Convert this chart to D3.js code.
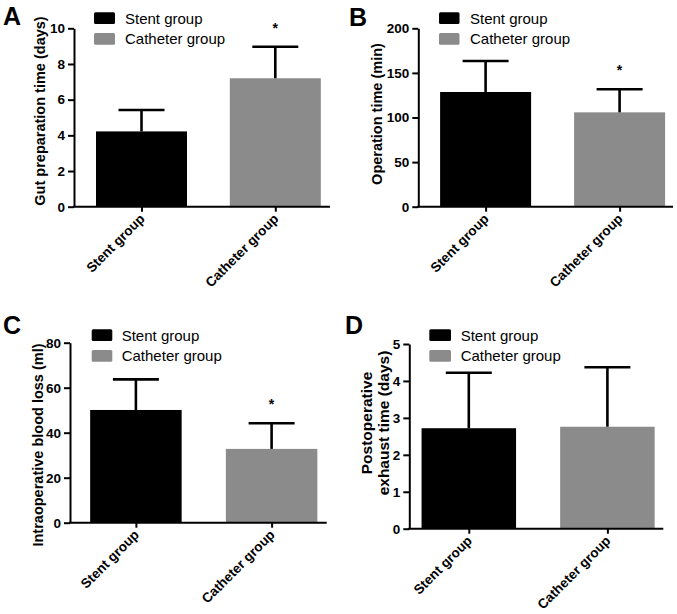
<!DOCTYPE html>
<html>
<head>
<meta charset="utf-8">
<script src="https://cdn.jsdelivr.net/npm/d3@7"></script>
<style>
  html, body { margin: 0; padding: 0; background: #fff; }
  svg { display: block; }
  text { font-family: "Liberation Sans", Arial, sans-serif; }
</style>
</head>
<body>
<svg id="chart" width="677" height="614"></svg>
<script>
// ---- Data ----
const categories = ["Stent group", "Catheter group"];
const seriesColors = ["#000000", "#8b8b8b"];

const panelLetters = ["A", "B", "C", "D"];
const yLabels = [
  ["Gut preparation time (days)"],
  ["Operation time (min)"],
  ["Intraoperative blood loss (ml)"],
  ["Postoperative", "exhaust time (days)"]
];

const gutMeans = [4.22, 7.2];
const gutSD = [1.2, 1.77];
const opMeans = [128.6, 105.8];
const opSD = [34.7, 25.8];
const bloodMeans = [50.1, 32.8];
const bloodSD = [13.6, 11.4];
const exhaustMeans = [2.72, 2.76];
const exhaustSD = [1.5, 1.61];

const gutTicks = [0, 2, 4, 6, 8, 10];
const opTicks = [0, 50, 100, 150, 200];
const bloodTicks = [0, 20, 40, 60, 80];
const exhaustTicks = [0, 1, 2, 3, 4, 5];

const significant = [
  [false, true],
  [false, true],
  [false, true],
  [false, false]
];

// ---- Layout ----
const panels = [
  { means: gutMeans, sd: gutSD, ticks: gutTicks,
    x0: 74, x1: 330, yTop: 28.3, yBot: 206.7, c1: 141.5, c2: 275.3, bw: 91,
    legX: 94, legW: 21, legY: 12.3, textX: 125,
    letterX: 3, letterY: 25, labSize: 14.5,
    labX: [45], labY: 111 },
  { means: opMeans, sd: opSD, ticks: opTicks,
    x0: 418.3, x1: 673, yTop: 28.3, yBot: 206.7, c1: 485.6, c2: 619.6, bw: 91,
    legX: 439, legW: 20.5, legY: 12.3, textX: 470,
    letterX: 349, letterY: 25.5, labSize: 14.5,
    labX: [382], labY: 114 },
  { means: bloodMeans, sd: bloodSD, ticks: bloodTicks,
    x0: 70, x1: 326.7, yTop: 342.7, yBot: 522.7, c1: 135.9, c2: 271.6, bw: 91.5,
    legX: 91.7, legW: 20.6, legY: 329.3, textX: 121.7,
    letterX: 3, letterY: 333.5, labSize: 14.5,
    labX: [43], labY: 445 },
  { means: exhaustMeans, sd: exhaustSD, ticks: exhaustTicks,
    x0: 409.3, x1: 663.3, yTop: 344, yBot: 528.7, c1: 468.8, c2: 607.4, bw: 94.5,
    legX: 429.3, legW: 21.7, legY: 329.3, textX: 460.7,
    letterX: 345, letterY: 334, labSize: 15.5,
    labX: [371.5, 389], labY: 423 }
];

const svg = d3.select("#chart");
const FONT = '"Liberation Sans", Arial, sans-serif';

panels.forEach((p, i) => {
  const g = svg.append("g");
  const maxV = d3.max(p.ticks);
  const y = d3.scaleLinear().domain([0, maxV]).range([p.yBot, p.yTop]);
  const x = d3.scalePoint().domain(categories).range([p.c1, p.c2]);

  // bars
  g.selectAll("rect.bar").data(categories).enter().append("rect")
    .attr("class", "bar")
    .attr("x", d => x(d) - p.bw / 2)
    .attr("width", p.bw)
    .attr("y", (d, j) => y(p.means[j]))
    .attr("height", (d, j) => p.yBot - y(p.means[j]))
    .attr("fill", (d, j) => seriesColors[j]);

  // error bars (upper only)
  const capHalf = 23;
  categories.forEach((c, j) => {
    const top = y(p.means[j] + p.sd[j]);
    g.append("line")
      .attr("x1", x(c)).attr("x2", x(c))
      .attr("y1", y(p.means[j])).attr("y2", top)
      .attr("stroke", "#000").attr("stroke-width", 2.6);
    g.append("line")
      .attr("x1", x(c) - capHalf).attr("x2", x(c) + capHalf)
      .attr("y1", top).attr("y2", top)
      .attr("stroke", "#000").attr("stroke-width", 2.6);
    if (significant[i][j]) {
      g.append("text")
        .attr("x", x(c)).attr("y", top - 14)
        .attr("text-anchor", "middle")
        .attr("font-size", 14).attr("font-weight", "bold")
        .text("*");
    }
  });

  // y axis
  const yAxis = d3.axisLeft(y).tickValues(p.ticks).tickFormat(d3.format("d"))
    .tickSize(6).tickSizeOuter(0).tickPadding(3);
  const ya = g.append("g").attr("transform", `translate(${p.x0},0)`).call(yAxis);
  ya.select(".domain").attr("stroke-width", 2);
  ya.selectAll(".tick line").attr("stroke-width", 2);
  ya.selectAll(".tick text")
    .attr("font-family", FONT).attr("font-size", 13.5).attr("font-weight", "bold").attr("fill", "#000");

  // x axis baseline
  g.append("line")
    .attr("x1", p.x0 - 1).attr("x2", p.x1)
    .attr("y1", p.yBot).attr("y2", p.yBot)
    .attr("stroke", "#000").attr("stroke-width", 2);
  const xAxis = d3.axisBottom(x).tickSize(5).tickSizeOuter(0).tickFormat("");
  const xa = g.append("g").attr("transform", `translate(0,${p.yBot})`).call(xAxis);
  xa.select(".domain").remove();
  xa.selectAll(".tick line").attr("stroke-width", 2);

  // x category labels (rotated)
  g.selectAll("text.cat").data(categories).enter().append("text")
    .attr("class", "cat")
    .attr("transform", d => `translate(${x(d) + 4},${p.yBot + 13}) rotate(-45)`)
    .attr("text-anchor", "end")
    .attr("font-size", 13.5).attr("font-weight", "bold")
    .text(d => d);

  // y label
  yLabels[i].forEach((t, k) => {
    g.append("text")
      .attr("transform", `translate(${p.labX[k]},${p.labY}) rotate(-90)`)
      .attr("text-anchor", "middle")
      .attr("font-size", p.labSize).attr("font-weight", "bold")
      .text(t);
  });

  // legend
  categories.forEach((c, j) => {
    const ly = p.legY + j * 20.7;
    g.append("rect")
      .attr("x", p.legX).attr("y", ly)
      .attr("width", p.legW).attr("height", 11.7)
      .attr("rx", 1.5)
      .attr("fill", seriesColors[j]);
    g.append("text")
      .attr("x", p.textX).attr("y", ly + 11.3)
      .attr("font-size", 15)
      .text(c);
  });

  // panel letter
  g.append("text")
    .attr("x", p.letterX).attr("y", p.letterY)
    .attr("font-size", 25).attr("font-weight", "bold")
    .text(panelLetters[i]);
});
</script>
</body>
</html>
